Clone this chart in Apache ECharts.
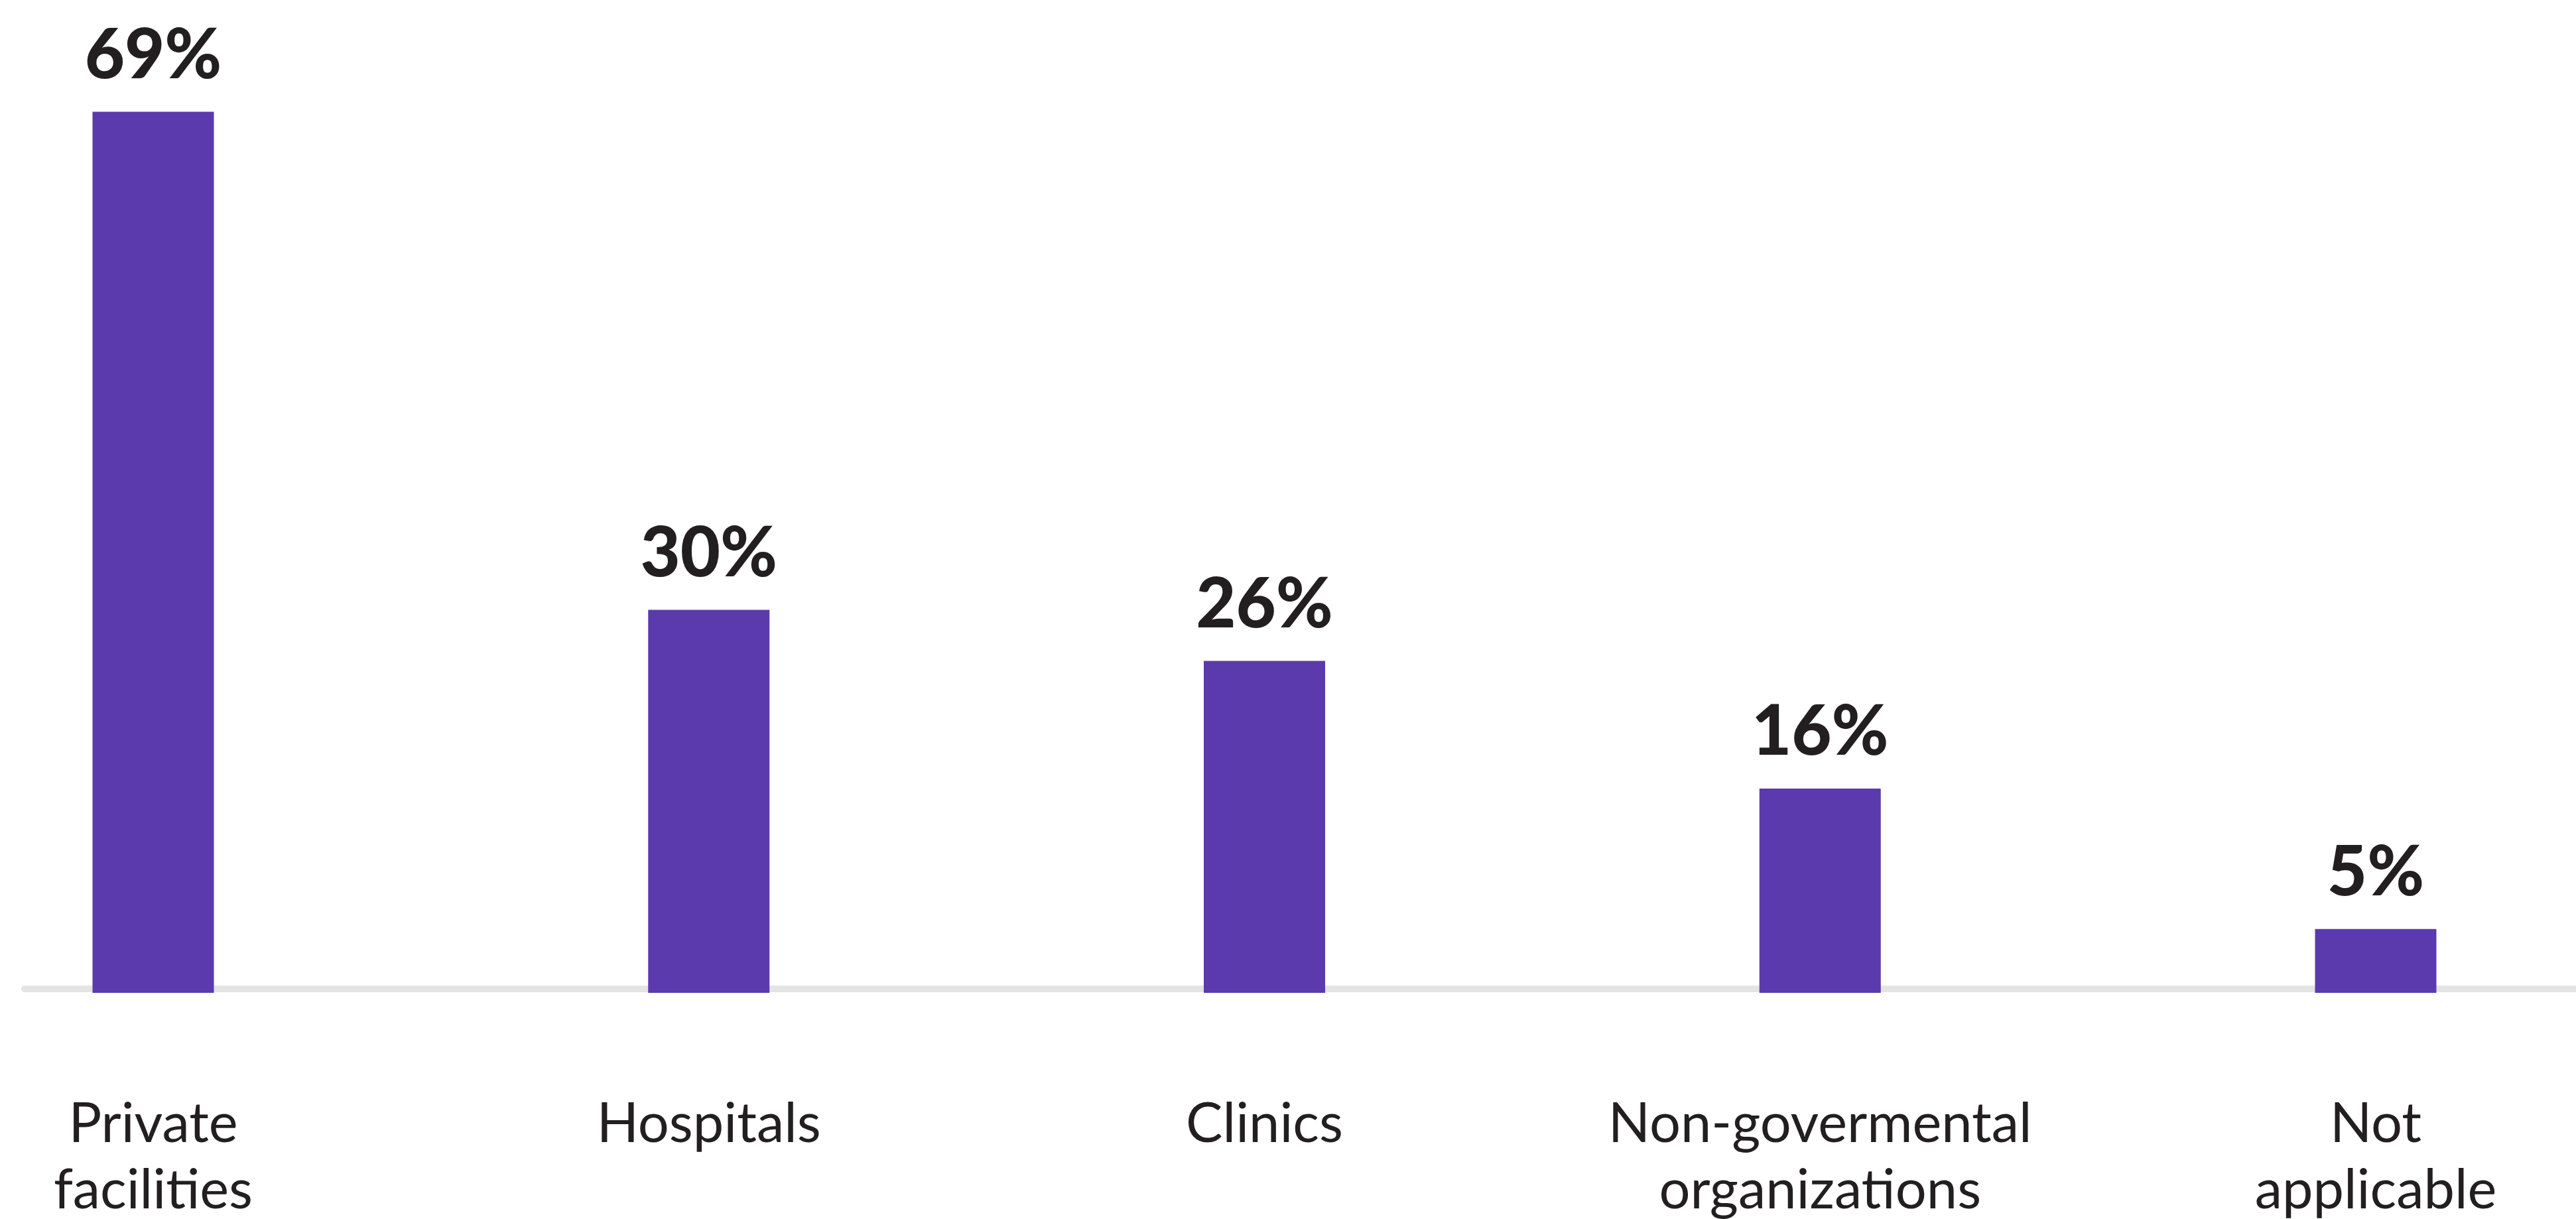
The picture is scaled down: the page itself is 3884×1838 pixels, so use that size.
<!DOCTYPE html>
<html>
<head>
<meta charset="utf-8">
<script src="https://cdn.jsdelivr.net/npm/echarts@6/dist/echarts.min.js"></script>
<style>
  html, body { margin: 0; padding: 0; background: #ffffff; }
  #chart { width: 3884px; height: 1838px; }
</style>
</head>
<body>
<div id="chart"></div>
<script>
const categories = ['Private\nfacilities', 'Hospitals', 'Clinics', 'Non-govermental\norganizations', 'Not\napplicable'];
const values = [69, 30, 26, 16, 5];
const valueSuffix = '%';

const chart = echarts.init(document.getElementById('chart'), null, { renderer: 'canvas' });

chart.setOption({
  backgroundColor: '#ffffff',
  animation: false,
  grid: [
    { left: 231, right: 302, top: 53, bottom: 341, containLabel: false, outerBoundsMode: 'none' },
    { left: 37, right: 0, top: 53, bottom: 347, containLabel: false, outerBoundsMode: 'none' }
  ],
  xAxis: [
    {
      gridIndex: 0,
      type: 'category',
      data: categories,
      boundaryGap: false,
      axisLine: { show: false },
      axisTick: { show: false },
      splitLine: { show: false },
      axisLabel: {
        interval: 0,
        margin: 148,
        color: '#231f20',
        fontFamily: 'Lato',
        fontSize: 83,
        lineHeight: 100,
        align: 'center'
      }
    },
    {
      gridIndex: 1,
      type: 'category',
      data: [''],
      axisLine: { show: true, lineStyle: { color: '#e4e4e4', width: 10 } },
      axisTick: { show: false },
      axisLabel: { show: false },
      splitLine: { show: false }
    }
  ],
  yAxis: [
    { gridIndex: 0, type: 'value', min: 0, max: 75, show: false },
    { gridIndex: 1, type: 'value', min: 0, max: 75, show: false }
  ],
  series: [
    {
      type: 'bar',
      xAxisIndex: 0,
      yAxisIndex: 0,
      data: values,
      barWidth: 183,
      clip: false,
      z: 5,
      itemStyle: { color: '#5b3aad' },
      label: {
        show: true,
        position: 'top',
        distance: 32,
        formatter: p => p.value + valueSuffix,
        color: '#231f20',
        fontFamily: 'Lato',
        fontWeight: 900,
        fontSize: 104
      }
    }
  ]
});
</script>
</body>
</html>
